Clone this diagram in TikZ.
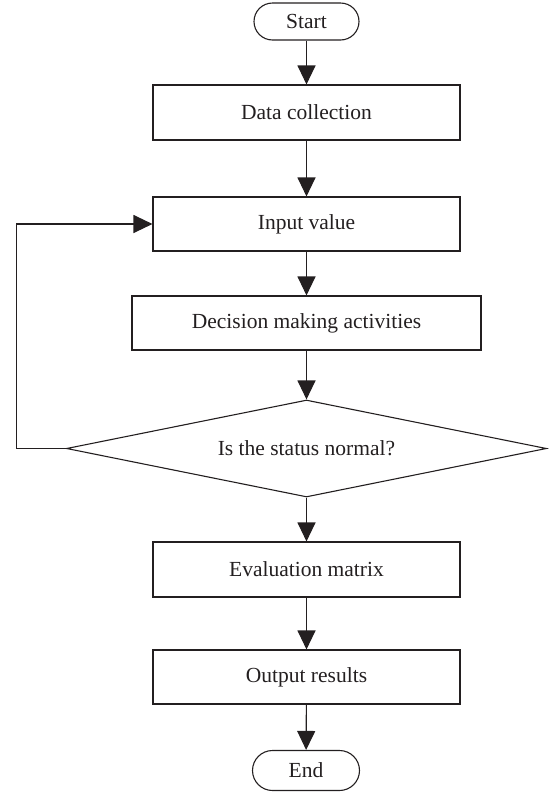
\documentclass[tikz,border=0pt]{standalone}
\usepackage{fontspec}
\setmainfont{Liberation Serif}
\usetikzlibrary{arrows.meta,shapes.geometric}
\definecolor{ink}{HTML}{231F20}
\begin{document}
\begin{tikzpicture}[x=1pt,y=-1pt,
  every node/.style={font=\fontsize{21.5}{25}\selectfont, text=ink},
  procbox/.style={draw=ink, line width=1.1pt, rectangle, inner sep=0pt, minimum height=54pt},
  termbox/.style={draw=ink, line width=1.1pt, rectangle, inner sep=0pt, minimum width=105pt, minimum height=37pt, rounded corners=18.5pt},
  decbox/.style={draw=ink, line width=1.1pt, diamond, shape aspect=4.95, inner sep=0pt, minimum width=480pt, minimum height=97pt},
  flow/.style={draw=ink, line width=1.1pt, -{Triangle[length=19pt,width=18pt]}}
]
\useasboundingbox (0,0) rectangle (549,793);
\node[termbox] (start) at (306.5,21.5) {Start};
\node[procbox, minimum width=307pt, minimum height=55pt] (data) at (306.5,112.5) {Data collection};
\node[procbox, minimum width=307pt] (input) at (306.5,224) {Input value};
\node[procbox, minimum width=349pt] (decision) at (306.5,323) {Decision making activities};
\node[decbox] (dia) at (306.5,448.5) {Is the status normal?};
\node[procbox, minimum width=307pt, minimum height=55pt] (eval) at (306.5,569.5) {Evaluation matrix};
\node[procbox, minimum width=307pt] (output) at (306.5,677) {Output results};
\node[termbox, minimum width=107pt, minimum height=40pt, rounded corners=20pt] (end) at (306,770.5) {End};
\coordinate (fb) at (16.7,448.5);

\draw[flow] (start) -- (data);
\draw[flow] (data) -- (input);
\draw[flow] (input) -- (decision);
\draw[flow] (decision) -- (dia);
\draw[flow] (dia) -- (eval);
\draw[flow] (eval) -- (output);
\draw[flow] (output) -- (end);
\draw[flow] (dia.west) -- (fb) |- (input.west);
\end{tikzpicture}
\end{document}
